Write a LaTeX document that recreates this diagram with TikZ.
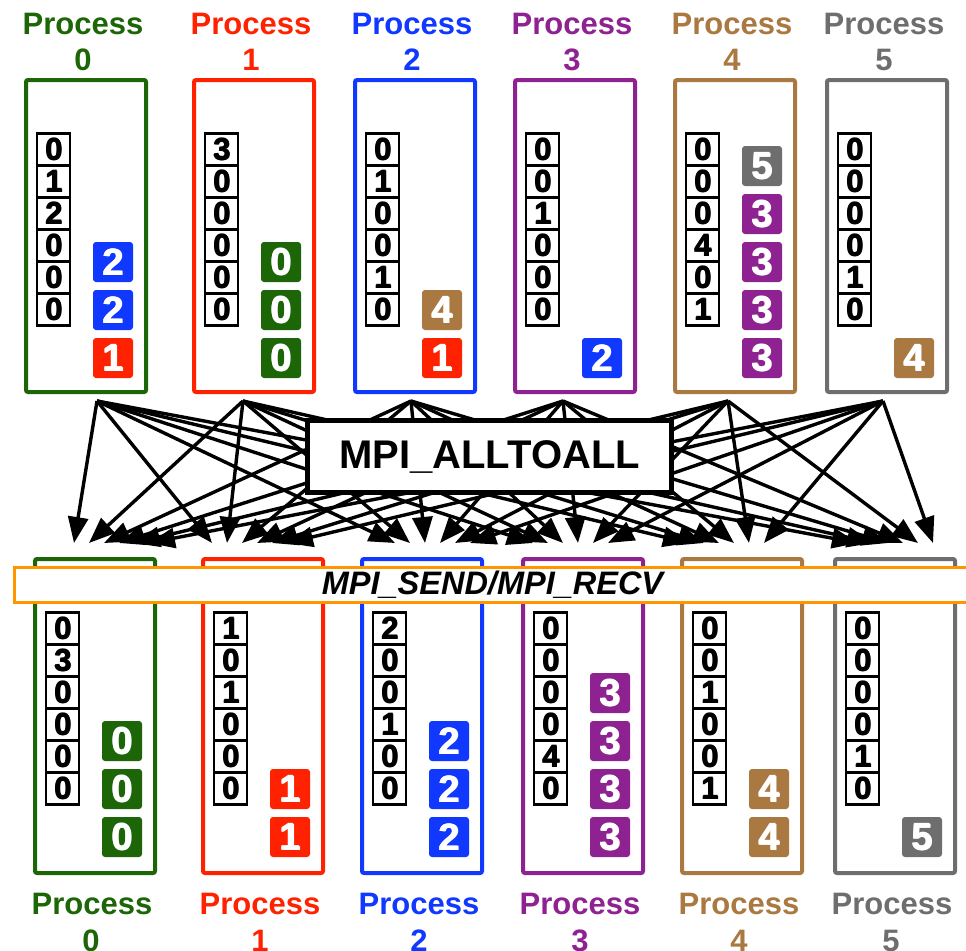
\documentclass[tikz,border=0pt]{standalone}
\usepackage{fontspec}
\setmainfont{Liberation Sans}
\usetikzlibrary{arrows.meta}
\definecolor{cg}{RGB}{28,102,8}
\definecolor{cr}{RGB}{255,34,0}
\definecolor{cb}{RGB}{16,56,255}
\definecolor{cp}{RGB}{142,34,145}
\definecolor{cn}{RGB}{170,120,65}
\definecolor{ck}{RGB}{110,110,110}
\definecolor{co}{RGB}{255,150,0}
\newcommand{\FatDigit}[1]{\makebox[0pt][l]{\kern0.9pt#1}\makebox[0pt][l]{\raisebox{0.5pt}{\kern0.45pt#1}}#1}
% #1 name, #2 L, #3 T, #4 H, #5 color, #6 cells, #7 squares, #8 label y1
\newcommand{\ProcBox}[8]{%
  \node[pbox=#5, minimum width=120pt, minimum height=#4pt-4pt, anchor=north west] (#1) at (#2+2,#3+2) {};
  \foreach \v [count=\r from 0] in {#6}
    \node[cellbox] (#1-c\r) at (#2+31.5, #3+73.25+32*\r) {\FatDigit{\v}};
  \foreach \k/\c/\d in {#7}
    \node[sq=\c] (#1-s\k) at (#2+91, #3+282-48*\k) {\FatDigit{\d}};
  \node[plabel=#5] (#1-t) at (#2+61, #8) {Process};
}
\begin{document}
\begin{tikzpicture}[x=1pt,y=-1pt,
  pbox/.style={draw=#1, line width=4pt, rounded corners=2pt, inner sep=0pt},
  cellbox/.style={draw=black, line width=2.5pt, minimum width=33pt, minimum height=32pt, inner sep=0pt,
    font=\fontsize{31}{31}\selectfont\bfseries},
  sq/.style={fill=#1, rounded corners=3pt, minimum size=40pt, inner sep=0pt, text=white,
    font=\fontsize{38}{38}\selectfont\bfseries},
  plabel/.style={text=#1, inner sep=0pt, font=\fontsize{31}{31}\selectfont\bfseries},
  arr/.style={line width=3.4pt, -{Triangle[length=26pt,width=20pt]}},
]
\useasboundingbox (0,0) rectangle (966,950);
% top row
\ProcBox{t0}{22}{76}{316}{cg}{0,1,2,0,0,0}{2/cb/2,1/cb/2,0/cr/1}{24}
\ProcBox{t1}{190}{76}{316}{cr}{3,0,0,0,0,0}{2/cg/0,1/cg/0,0/cg/0}{24}
\ProcBox{t2}{351}{76}{316}{cb}{0,1,0,0,1,0}{1/cn/4,0/cr/1}{24}
\ProcBox{t3}{511}{76}{316}{cp}{0,0,1,0,0,0}{0/cb/2}{24}
\ProcBox{t4}{671}{76}{316}{cn}{0,0,0,4,0,1}{4/ck/5,3/cp/3,2/cp/3,1/cp/3,0/cp/3}{24}
\ProcBox{t5}{823}{76}{316}{ck}{0,0,0,0,1,0}{0/cn/4}{24}
\foreach \n/\x/\c in {0/83/cg,1/251/cr,2/412/cb,3/572/cp,4/732/cn,5/884/ck}
  \node[plabel=\c] (tn\n) at (\x,60) {\n};
% arrows
\foreach \i/\sx in {0/97,1/243,2/411,3/563,4/728,5/883}
  \coordinate (src\i) at (\sx,401);
\foreach \j/\tx in {0/74,1/227,2/425,3/578,4/749,5/933}
  \foreach \i in {0,...,5}
    \coordinate (tip\i-\j) at (\tx+15*\i-15*\j, 543);
\foreach \i in {0,...,5}
  \foreach \j in {0,...,5}
    \draw[arr] (src\i) -- (tip\i-\j);
\node[draw, line width=5pt, fill=white, minimum width=364pt, minimum height=72pt, inner sep=0pt,
  font=\fontsize{40}{40}\selectfont\bfseries] (ata) at (489.5,456.5) {MPI\_ALLTOALL};
% bottom row
\ProcBox{b0}{31}{555}{318}{cg}{0,3,0,0,0,0}{2/cg/0,1/cg/0,0/cg/0}{904}
\ProcBox{b1}{199}{555}{318}{cr}{1,0,1,0,0,0}{1/cr/1,0/cr/1}{904}
\ProcBox{b2}{358}{555}{318}{cb}{2,0,0,1,0,0}{2/cb/2,1/cb/2,0/cb/2}{904}
\ProcBox{b3}{519}{555}{318}{cp}{0,0,0,0,4,0}{3/cp/3,2/cp/3,1/cp/3,0/cp/3}{904}
\ProcBox{b4}{678}{555}{318}{cn}{0,0,1,0,0,1}{1/cn/4,0/cn/4}{904}
\ProcBox{b5}{831}{555}{318}{ck}{0,0,0,0,1,0}{0/ck/5}{904}
\foreach \n/\x/\c in {0/91/cg,1/260/cr,2/419/cb,3/580/cp,4/739/cn,5/891/ck}
  \node[plabel=\c] (bn\n) at (\x,941) {\n};
\node[draw=co, line width=3pt, fill=white, minimum width=956pt, minimum height=35pt, inner sep=0pt,
  font=\fontsize{32.5}{32.5}\selectfont\bfseries\itshape] (sr) at (492.5,585) {MPI\_SEND/MPI\_RECV};
\end{tikzpicture}
\end{document}
